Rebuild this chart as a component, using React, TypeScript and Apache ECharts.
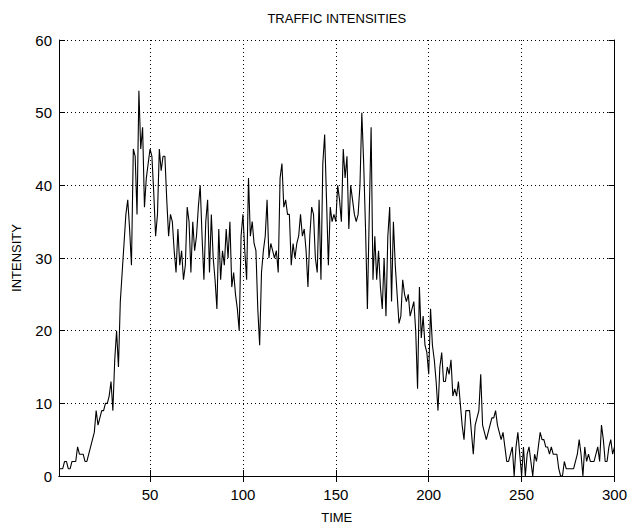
import React, { useEffect, useRef } from "react";
import * as echarts from "echarts";

const rampUp = [1,1,1,2,2,1,1,2,2,2, 4,3,3,3,2,2,3,4,5,6, 9,7,8,9,9,10,10,11,13,9, 16,20,15,24,28,32,36,38,34,29, 45,44,36,53,45,48,37,41,43,45];
const plateauA = [44,39,33,36,45,42,44,44,38,33, 36,35,31,28,34,29,31,27,29,37, 35,28,35,31,33,37,40,33,27,35, 38,28,36,30,27,23,34,27,31,29, 34,30,35,26,28,25,23,20,33,36];
const plateauB = [31,27,41,33,35,32,31,23,18,28, 31,33,38,30,32,31,30,31,28,41, 43,37,38,36,36,29,32,30,32,33, 36,33,34,31,26,33,37,36,30,28, 38,27,43,47,38,29,37,35,36,35];
const peakDecline = [40,38,35,45,41,44,34,40,38,36, 35,36,40,50,43,34,23,36,48,27, 33,27,31,26,23,30,22,33,37,24, 35,29,25,21,22,27,25,24,25,22, 23,24,20,12,26,19,22,18,17,14];
const tailA = [23,18,16,13,9,15,17,13,13,15, 14,16,11,12,11,13,10,7,5,9, 9,9,6,3,7,8,9,14,7,6, 5,6,7,8,8,9,7,6,5,6, 4,2,2,3,4,0,4,6,3,0];
const tailB = [4,0,3,4,2,0,3,2,4,6, 5,5,4,4,3,4,3,3,3,1, 0,0,2,1,1,1,1,1,2,3, 5,3,0,4,2,3,2,2,2,3, 4,2,7,5,2,2,4,5,3,4];

const xTicks = [50, 100, 150, 200, 250, 300];
const title = "TRAFFIC INTENSITIES";
const xName = "TIME";
const yName = "INTENSITY";

const FONT = "'Liberation Sans', Arial, Helvetica, sans-serif";

export default function App() {
  const ref = useRef<HTMLDivElement>(null);
  useEffect(() => {
    if (!ref.current) return;
    const chart = echarts.init(ref.current, null, { renderer: "svg" });
    const intensities = [...rampUp, ...plateauA, ...plateauB, ...peakDecline, ...tailA, ...tailB];
    const data = intensities.map((v, i) => [i + 1, v]);
    const axisLine = { show: true, lineStyle: { color: "#000", width: 1 } };
    const tick = { show: true, inside: true, length: 6, lineStyle: { color: "#000", width: 1 } };
    chart.setOption({
      animation: false,
      backgroundColor: "#fff",
      grid: { left: 59, right: 15, top: 40, bottom: 52, containLabel: false },
      xAxis: [
        {
          type: "value",
          position: "bottom",
          min: 1,
          max: 300,
          axisLine,
          axisTick: { ...tick, customValues: xTicks },
          axisLabel: { customValues: xTicks, color: "#000", fontSize: 15, fontFamily: FONT, margin: 11 },
          splitLine: { show: true, lineStyle: { color: "#000", type: [1, 3], width: 1 } },
          name: xName,
          nameLocation: "middle",
          nameGap: 35,
          nameTextStyle: { color: "#000", fontSize: 13, fontFamily: FONT },
        },
        {
          type: "value",
          position: "top",
          min: 1,
          max: 300,
          axisLine,
          axisTick: { ...tick, customValues: xTicks },
          axisLabel: { show: false, customValues: xTicks },
          splitLine: { show: false },
          name: title,
          nameLocation: "middle",
          nameGap: 15,
          nameTextStyle: { color: "#000", fontSize: 13, fontFamily: FONT },
        },
      ],
      yAxis: [
        {
          type: "value",
          position: "left",
          min: 0,
          max: 60,
          interval: 10,
          axisLine,
          axisTick: tick,
          axisLabel: { color: "#000", fontSize: 15, fontFamily: FONT, margin: 7 },
          splitLine: { show: true, lineStyle: { color: "#000", type: [1, 3], width: 1 } },
          name: yName,
          nameLocation: "middle",
          nameGap: 36,
          nameTextStyle: { color: "#000", fontSize: 13, fontFamily: FONT },
        },
        {
          type: "value",
          position: "right",
          min: 0,
          max: 60,
          interval: 10,
          axisLine,
          axisTick: tick,
          axisLabel: { show: false },
          splitLine: { show: false },
        },
      ],
      series: [
        {
          type: "line",
          data,
          xAxisIndex: 0,
          yAxisIndex: 0,
          showSymbol: false,
          symbol: "none",
          lineStyle: { color: "#000", width: 1.1 },
          clip: true,
        },
      ],
    });
    return () => chart.dispose();
  }, []);
  return (
    <div
      ref={ref}
      style={{ position: "fixed", left: 0, top: 0, width: 630, height: 529, background: "#fff" }}
    />
  );
}
